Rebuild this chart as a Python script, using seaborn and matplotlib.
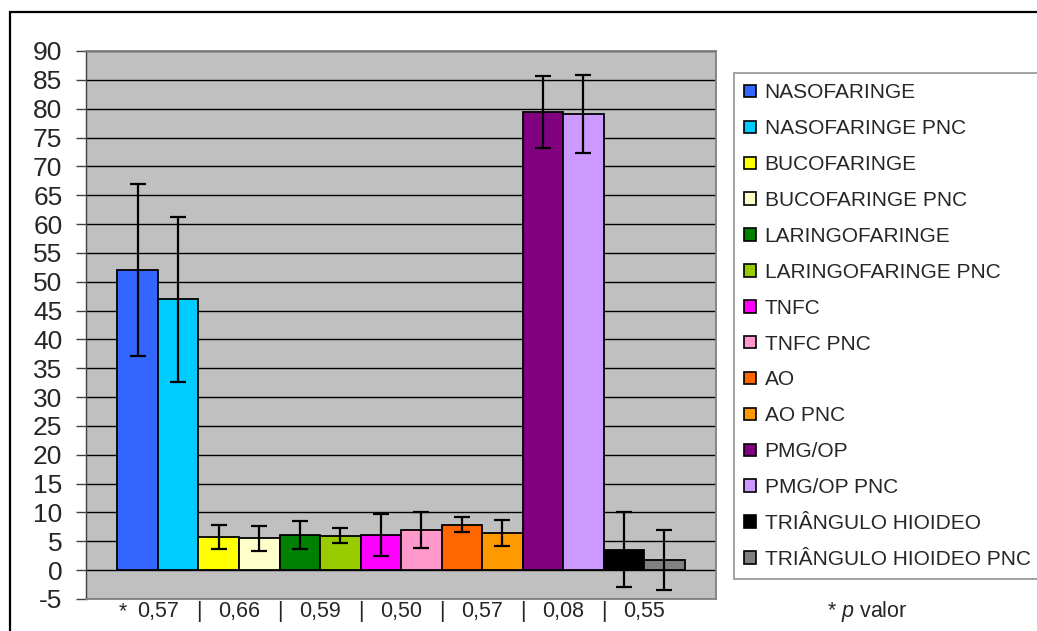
import matplotlib
matplotlib.use("Agg")
import matplotlib.pyplot as plt
import matplotlib.transforms as mtransforms
from matplotlib.patches import Rectangle, Patch
import seaborn as sns
import pandas as pd
import numpy as np

# ---------------------------------------------------------------------------
# Data
# ---------------------------------------------------------------------------
series = [
    "NASOFARINGE", "NASOFARINGE PNC",
    "BUCOFARINGE", "BUCOFARINGE PNC",
    "LARINGOFARINGE", "LARINGOFARINGE PNC",
    "TNFC", "TNFC PNC",
    "AO", "AO PNC",
    "PMG/OP", "PMG/OP PNC",
    "TRIÂNGULO HIOIDEO", "TRIÂNGULO HIOIDEO PNC",
]
means = [52.0, 47.0, 5.8, 5.5, 6.1, 6.0, 6.1, 7.0, 7.9, 6.4, 79.4, 79.1, 3.5, 1.7]
errors = [14.9, 14.3, 2.1, 2.1, 2.5, 1.25, 3.7, 3.1, 1.35, 2.25, 6.3, 6.8, 6.5, 5.2]
p_values = ["0,57", "0,66", "0,59", "0,50", "0,57", "0,08", "0,55"]

colors = [
    "#3366FF", "#00CCFF", "#FFFF00", "#FFFFCC", "#008000", "#99CC00",
    "#FF00FF", "#FF99CC", "#FF6600", "#FF9900", "#800080", "#CC99FF",
    "#000000", "#808080",
]

# ---------------------------------------------------------------------------
# Style
# ---------------------------------------------------------------------------
sns.set_style("white")
plt.rcParams["font.family"] = ["Liberation Sans", "DejaVu Sans"]
plt.rcParams["axes.unicode_minus"] = False
plt.rcParams["mathtext.fontset"] = "custom"
plt.rcParams["mathtext.rm"] = "Liberation Sans"
plt.rcParams["mathtext.it"] = "Liberation Sans:italic"

df = pd.DataFrame({"grupo": [""] * len(series), "serie": series, "valor": means})

fig = plt.figure(figsize=(10.37, 6.31), dpi=100)
ax = fig.add_axes([86 / 1037, 1 - 599 / 631, 630 / 1037, 548 / 631])
ax.set_facecolor("#C0C0C0")

sns.barplot(
    data=df, x="grupo", y="valor", hue="serie", hue_order=series,
    palette=colors, width=0.9, errorbar=None, edgecolor="black",
    linewidth=1.3, saturation=1, legend=False, ax=ax,
)

# error bars at the centres of the drawn bars
patches = sorted(ax.patches, key=lambda p: p.get_x())
centers = [p.get_x() + p.get_width() / 2 for p in patches]
ax.errorbar(centers, means, yerr=errors, fmt="none", ecolor="black",
            elinewidth=1.6, capsize=6, capthick=1.6, zorder=5)

ax.set_ylim(-5, 90)
ax.set_xlim(-0.5, 0.5)
ax.set_yticks(np.arange(-5, 91, 5))
ax.yaxis.grid(True, color="black", linewidth=1)
ax.set_axisbelow(True)
ax.set_xlabel("")
ax.set_ylabel("")
ax.set_xticks([])
ax.tick_params(axis="y", labelsize=19, length=7, width=1, color="#404040",
               direction="out", pad=10, left=True)
for side in ["top", "right", "bottom"]:
    ax.spines[side].set_color("#808080")
    ax.spines[side].set_linewidth(1.3)
ax.spines["left"].set_color("#404040")
ax.spines["left"].set_linewidth(1)

# p-values under each pair of bars
trans = mtransforms.blended_transform_factory(ax.transData, fig.transFigure)
y_txt = 1 - 612 / 631
fs = 15.5
for i, pv in enumerate(p_values):
    pair_c = (centers[2 * i] + centers[2 * i + 1]) / 2
    ax.text(pair_c, y_txt, pv, transform=trans, ha="center", va="center", fontsize=fs)
    if i < len(p_values) - 1:
        sep = patches[2 * i + 1].get_x() + patches[2 * i + 1].get_width()
        ax.text(sep, y_txt, "|", transform=trans, ha="center", va="center", fontsize=fs)
ax.text(patches[0].get_x() + 0.009, y_txt, "*", transform=trans, ha="center",
        va="center", fontsize=fs)
fig.text(867 / 1037, y_txt, "* $p$ valor", ha="center", va="center", fontsize=fs)

# legend
handles = [Patch(facecolor=c, edgecolor="black", linewidth=1.2) for c in colors]
leg = fig.legend(
    handles, series, loc="upper left", bbox_to_anchor=(734 / 1037, 1 - 73 / 631),
    frameon=True, fancybox=False, fontsize=15, handlelength=0.55, handleheight=0.55,
    handletextpad=0.42, labelspacing=0.81, borderpad=0.5, borderaxespad=0,
)
leg.get_frame().set_edgecolor("#808080")
leg.get_frame().set_linewidth(1.3)

# outer chart frame
fig.patches.append(Rectangle((10 / 1037, -0.1), 1.2, 1 - 12 / 631 + 0.1,
                             transform=fig.transFigure, fill=False,
                             edgecolor="black", linewidth=1.6))

fig.savefig("out.png", dpi=100)
